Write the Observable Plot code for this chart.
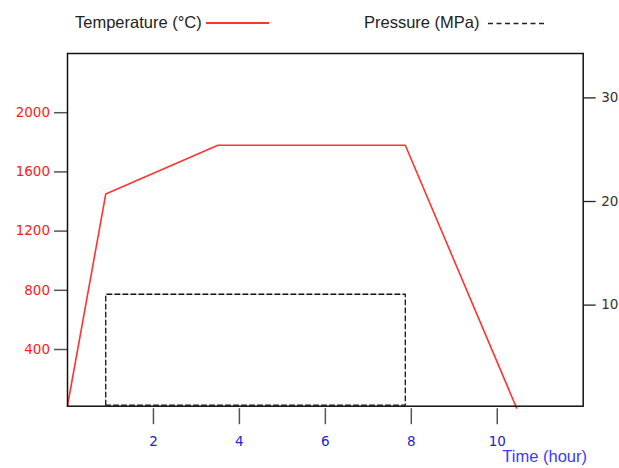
<!DOCTYPE html>
<html><head><meta charset="utf-8">
<script src="https://cdn.jsdelivr.net/npm/d3@7"></script>
<script src="https://cdn.jsdelivr.net/npm/@observablehq/plot@0.6"></script>
<style>
body{margin:0;background:#fff;}
#wrap{position:relative;width:619px;height:468px;}
#legend{position:relative;height:40px;width:619px;}
.lg{position:absolute;font-family:"Liberation Sans",Arial,sans-serif;font-size:16.5px;line-height:18px;color:#222;white-space:nowrap;}
#xlabel{position:absolute;font-family:"Liberation Sans",Arial,sans-serif;font-size:16.5px;line-height:18px;color:#3b3bff;white-space:nowrap;right:32px;top:447px;}
#chart svg{display:block;}
</style></head><body>
<div id="wrap">
<div id="legend">
  <span class="lg" id="lgT" style="left:75px;top:13px;"></span>
  <svg style="position:absolute;left:205px;top:18px;" width="66" height="10"><line x1="1" x2="64" y1="5" y2="5" stroke="#ff3333" stroke-width="1.8"/></svg>
  <span class="lg" id="lgP" style="left:364px;top:13px;"></span>
  <svg style="position:absolute;left:486px;top:18px;" width="64" height="10"><line x1="2" x2="61" y1="5.5" y2="5.5" stroke="#222" stroke-width="1.3" stroke-dasharray="5,3.5"/></svg>
</div>
<div id="chart"></div>
<div id="xlabel"></div>
</div>
<script>
const timeTemp = [0, 0.89, 3.5, 7.86, 10.45];
const temperature = [20, 1450, 1780, 1780, 5];
const timePress = [0.89, 0.89, 7.86, 7.86, 0.89];
const pressure = [0.35, 11.05, 11.05, 0.35, 0.35];
const xTicks = [2, 4, 6, 8, 10];
const tempTicks = [400, 800, 1200, 1600, 2000];
const pressTicks = [10, 20, 30];
const tempDomain = [17, 2400];
const tempPerMPa = 70; // right axis = left axis / 70
const xDomain = [0, 12];
const legendLabels = ["Temperature (°C)", "Pressure (MPa)"];
const xTitle = "Time (hour)";

document.getElementById("lgT").textContent = legendLabels[0];
document.getElementById("lgP").textContent = legendLabels[1];
document.getElementById("xlabel").textContent = xTitle;

const toT = p => p * tempPerMPa;
const toP = t => t / tempPerMPa;

const tempData = timeTemp.map((t, i) => ({t, v: temperature[i]}));
const pressData = timePress.map((t, i) => ({t, v: toT(pressure[i])}));

const chart = Plot.plot({
  width: 619, height: 428,
  marginTop: 13, marginBottom: 62.3, marginLeft: 67, marginRight: 36.3,
  style: {fontFamily: "DejaVu Sans", fontSize: "13.5px", background: "transparent", overflow: "visible"},
  x: {domain: xDomain, label: null},
  y: {domain: tempDomain, label: null},
  marks: [
    Plot.line(pressData, {x: "t", y: "v", stroke: "#111", strokeWidth: 1.3, strokeDasharray: "5,3"}),
    Plot.line(tempData, {x: "t", y: "v", stroke: "#ff3333", strokeWidth: 1.6}),
    Plot.axisX(xTicks, {anchor: "bottom", tickSize: 16, dy: 2.5, tickPadding: 12, stroke: "#555", strokeWidth: 1.5, fill: "#2323cc", tickFormat: d => String(d), label: null}),
    Plot.axisY(tempTicks, {anchor: "left", tickSize: 13, tickPadding: 4.5, stroke: "#555", strokeWidth: 1.5, fill: "#ff1a1a", tickFormat: d => String(d), label: null}),
    Plot.axisY(pressTicks.map(toT), {anchor: "right", tickSize: 12, tickPadding: 6, stroke: "#222", strokeWidth: 1.3, fill: "#333", tickFormat: d => String(Math.round(toP(d))), label: null}),
    Plot.frame({stroke: "#111", strokeWidth: 1.5})
  ]
});
document.getElementById("chart").appendChild(chart);
</script>
</body></html>
